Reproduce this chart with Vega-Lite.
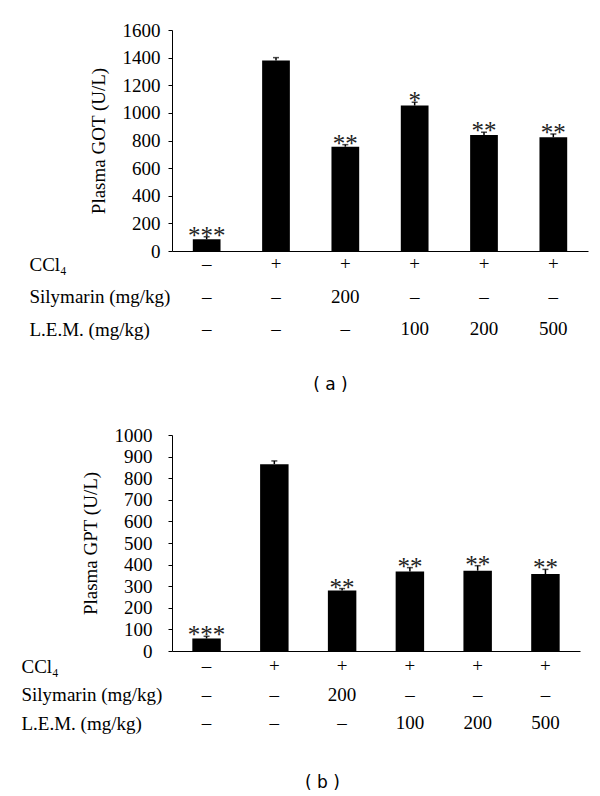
{
  "$schema": "https://vega.github.io/schema/vega-lite/v6.json",
  "background": "white",
  "padding": {"left": 21, "top": 21, "right": 5, "bottom": 5},
  "config": {
    "font": "Liberation Serif",
    "view": {"stroke": null},
    "axis": {"grid": false, "labelFont": "Liberation Serif", "titleFont": "Liberation Serif", "labelColor": "black", "titleColor": "black", "domainColor": "black", "tickColor": "black", "labelFontSize": 19},
    "title": {"font": "DejaVu Sans", "fontSize": 17, "fontWeight": "normal", "color": "black"}
  },
  "datasets": {
    "a": [
      {"g": "1", "value": 85, "hi": 103, "sig": "***"},
      {"g": "2", "value": 1380, "hi": 1400, "sig": ""},
      {"g": "3", "value": 755, "hi": 770, "sig": "**"},
      {"g": "4", "value": 1053, "hi": 1077, "sig": "*"},
      {"g": "5", "value": 840, "hi": 860, "sig": "**"},
      {"g": "6", "value": 823, "hi": 847, "sig": "**"}
    ],
    "b": [
      {"g": "1", "value": 58, "hi": 68, "sig": "***"},
      {"g": "2", "value": 865, "hi": 880, "sig": ""},
      {"g": "3", "value": 280, "hi": 289, "sig": "**"},
      {"g": "4", "value": 368, "hi": 386, "sig": "**"},
      {"g": "5", "value": 372, "hi": 395, "sig": "**"},
      {"g": "6", "value": 356, "hi": 378, "sig": "**"}
    ],
    "table": [
      {"g": "1", "row": "CCl₄", "v": "–"},
      {"g": "2", "row": "CCl₄", "v": "+"},
      {"g": "3", "row": "CCl₄", "v": "+"},
      {"g": "4", "row": "CCl₄", "v": "+"},
      {"g": "5", "row": "CCl₄", "v": "+"},
      {"g": "6", "row": "CCl₄", "v": "+"},
      {"g": "1", "row": "Silymarin (mg/kg)", "v": "–"},
      {"g": "2", "row": "Silymarin (mg/kg)", "v": "–"},
      {"g": "3", "row": "Silymarin (mg/kg)", "v": "200"},
      {"g": "4", "row": "Silymarin (mg/kg)", "v": "–"},
      {"g": "5", "row": "Silymarin (mg/kg)", "v": "–"},
      {"g": "6", "row": "Silymarin (mg/kg)", "v": "–"},
      {"g": "1", "row": "L.E.M. (mg/kg)", "v": "–"},
      {"g": "2", "row": "L.E.M. (mg/kg)", "v": "–"},
      {"g": "3", "row": "L.E.M. (mg/kg)", "v": "–"},
      {"g": "4", "row": "L.E.M. (mg/kg)", "v": "100"},
      {"g": "5", "row": "L.E.M. (mg/kg)", "v": "200"},
      {"g": "6", "row": "L.E.M. (mg/kg)", "v": "500"}
    ]
  },
  "resolve": {"scale": {"x": "independent", "y": "independent"}},
  "spacing": 33,
  "vconcat": [
    {
      "title": {"text": "( a )", "orient": "bottom", "anchor": "middle", "offset": 38, "dx": 22},
      "bounds": "flush",
      "spacing": 13,
      "resolve": {"scale": {"x": "independent", "y": "independent"}},
      "vconcat": [
        {
          "width": 416,
          "height": 221,
          "data": {"name": "a"},
          "encoding": {
            "x": {"field": "g", "type": "nominal", "sort": null, "scale": {"type": "band", "paddingInner": 0.6, "paddingOuter": 0.3}, "axis": {"labels": false, "ticks": false, "title": null}}
          },
          "layer": [
            {
              "mark": {"type": "bar", "color": "black"},
              "encoding": {
                "y": {"field": "value", "type": "quantitative", "scale": {"domain": [0, 1600], "nice": false}, "axis": {"values": [0, 200, 400, 600, 800, 1000, 1200, 1400, 1600], "format": "d", "labelOverlap": false, "labelFlush": false, "tickSize": 4, "labelPadding": 8, "title": "Plasma GOT (U/L)", "titleFontSize": 19, "titleFontWeight": "normal", "titlePadding": 14}}
              }
            },
            {
              "mark": {"type": "rule", "color": "black", "strokeWidth": 1.5},
              "encoding": {"y": {"field": "value", "type": "quantitative", "axis": {"values": [0, 200, 400, 600, 800, 1000, 1200, 1400, 1600], "format": "d", "labelOverlap": false, "labelFlush": false, "tickSize": 4, "labelPadding": 8, "title": "Plasma GOT (U/L)", "titleFontSize": 19, "titleFontWeight": "normal", "titlePadding": 14}}, "y2": {"field": "hi"}}
            },
            {
              "mark": {"type": "tick", "color": "black", "size": 6, "thickness": 1.5},
              "encoding": {"y": {"field": "hi", "type": "quantitative", "axis": {"values": [0, 200, 400, 600, 800, 1000, 1200, 1400, 1600], "format": "d", "labelOverlap": false, "labelFlush": false, "tickSize": 4, "labelPadding": 8, "title": "Plasma GOT (U/L)", "titleFontSize": 19, "titleFontWeight": "normal", "titlePadding": 14}}}
            },
            {
              "mark": {"type": "text", "font": "Liberation Serif", "fontSize": 25, "color": "#222", "baseline": "alphabetic", "dy": 7},
              "encoding": {"y": {"field": "hi", "type": "quantitative", "axis": {"values": [0, 200, 400, 600, 800, 1000, 1200, 1400, 1600], "format": "d", "labelOverlap": false, "labelFlush": false, "tickSize": 4, "labelPadding": 8, "title": "Plasma GOT (U/L)", "titleFontSize": 19, "titleFontWeight": "normal", "titlePadding": 14}}, "text": {"field": "sig"}}
            }
          ]
        },
        {
          "width": 416,
          "height": 65,
          "data": {"name": "table"},
          "mark": {"type": "text", "font": "Liberation Serif", "fontSize": 19, "color": "black"},
          "encoding": {
            "x": {"field": "g", "type": "nominal", "sort": null, "scale": {"type": "band", "paddingInner": 0.6, "paddingOuter": 0.3}, "axis": null},
            "y": {"field": "row", "type": "nominal", "sort": ["CCl₄", "Silymarin (mg/kg)", "L.E.M. (mg/kg)"], "scale": {"type": "point", "padding": 0}, "axis": {"domain": false, "ticks": false, "title": null, "labelAlign": "left", "labelPadding": 143, "labelLimit": 0}},
            "text": {"field": "v"}
          }
        }
      ]
    },
    {
      "title": {"text": "( b )", "orient": "bottom", "anchor": "middle", "offset": 42, "dx": 22},
      "bounds": "flush",
      "spacing": 15,
      "resolve": {"scale": {"x": "independent", "y": "independent"}},
      "vconcat": [
        {
          "width": 408,
          "height": 216,
          "data": {"name": "b"},
          "encoding": {
            "x": {"field": "g", "type": "nominal", "sort": null, "scale": {"type": "band", "paddingInner": 0.58, "paddingOuter": 0.3}, "axis": {"labels": false, "ticks": false, "title": null}}
          },
          "layer": [
            {
              "mark": {"type": "bar", "color": "black"},
              "encoding": {
                "y": {"field": "value", "type": "quantitative", "scale": {"domain": [0, 1000], "nice": false}, "axis": {"values": [0, 100, 200, 300, 400, 500, 600, 700, 800, 900, 1000], "format": "d", "labelOverlap": false, "labelFlush": false, "tickSize": 4, "labelPadding": 16, "title": "Plasma GPT (U/L)", "titleFontSize": 19, "titleFontWeight": "normal", "titlePadding": 14}}
              }
            },
            {
              "mark": {"type": "rule", "color": "black", "strokeWidth": 1.5},
              "encoding": {"y": {"field": "value", "type": "quantitative", "axis": {"values": [0, 100, 200, 300, 400, 500, 600, 700, 800, 900, 1000], "format": "d", "labelOverlap": false, "labelFlush": false, "tickSize": 4, "labelPadding": 16, "title": "Plasma GPT (U/L)", "titleFontSize": 19, "titleFontWeight": "normal", "titlePadding": 14}}, "y2": {"field": "hi"}}
            },
            {
              "mark": {"type": "tick", "color": "black", "size": 6, "thickness": 1.5},
              "encoding": {"y": {"field": "hi", "type": "quantitative", "axis": {"values": [0, 100, 200, 300, 400, 500, 600, 700, 800, 900, 1000], "format": "d", "labelOverlap": false, "labelFlush": false, "tickSize": 4, "labelPadding": 16, "title": "Plasma GPT (U/L)", "titleFontSize": 19, "titleFontWeight": "normal", "titlePadding": 14}}}
            },
            {
              "mark": {"type": "text", "font": "Liberation Serif", "fontSize": 25, "color": "#222", "baseline": "alphabetic", "dy": 7},
              "encoding": {"y": {"field": "hi", "type": "quantitative", "axis": {"values": [0, 100, 200, 300, 400, 500, 600, 700, 800, 900, 1000], "format": "d", "labelOverlap": false, "labelFlush": false, "tickSize": 4, "labelPadding": 16, "title": "Plasma GPT (U/L)", "titleFontSize": 19, "titleFontWeight": "normal", "titlePadding": 14}}, "text": {"field": "sig"}}
            }
          ]
        },
        {
          "width": 408,
          "height": 57,
          "data": {"name": "table"},
          "mark": {"type": "text", "font": "Liberation Serif", "fontSize": 19, "color": "black"},
          "encoding": {
            "x": {"field": "g", "type": "nominal", "sort": null, "scale": {"type": "band", "paddingInner": 0.58, "paddingOuter": 0.3}, "axis": null},
            "y": {"field": "row", "type": "nominal", "sort": ["CCl₄", "Silymarin (mg/kg)", "L.E.M. (mg/kg)"], "scale": {"type": "point", "padding": 0}, "axis": {"domain": false, "ticks": false, "title": null, "labelAlign": "left", "labelPadding": 151, "labelLimit": 0}},
            "text": {"field": "v"}
          }
        }
      ]
    }
  ]
}
